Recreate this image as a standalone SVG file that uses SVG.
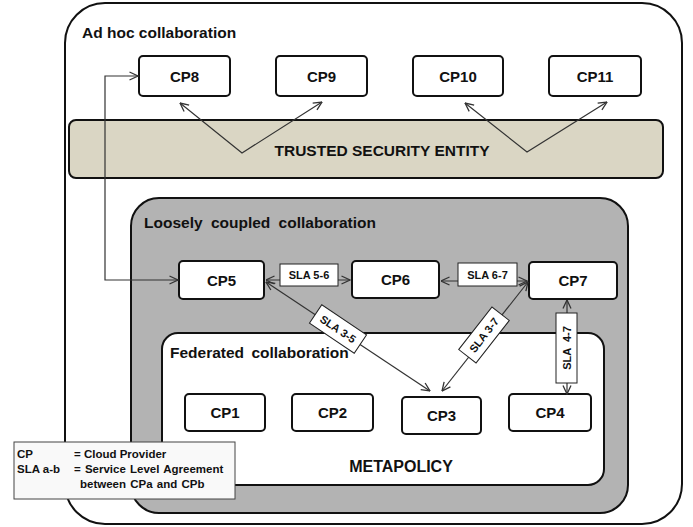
<svg xmlns="http://www.w3.org/2000/svg" width="693" height="527" viewBox="0 0 693 527">
<defs>
<marker id="ah" viewBox="0 0 10 10" refX="9.5" refY="5" markerWidth="10" markerHeight="10" markerUnits="userSpaceOnUse" orient="auto-start-reverse">
<path d="M1,1 L9.5,5 L1,9" fill="none" stroke="#333" stroke-width="1.3"/>
</marker>
<style>
text{font-family:"Liberation Sans",Arial,sans-serif;font-weight:bold;fill:#111}
.node{fill:#fff;stroke:#111;stroke-width:2}
.cp{font-size:15px;text-anchor:middle}
.title{font-size:15.5px}
.conn{fill:none;stroke:#333;stroke-width:1.2}
.lbl{fill:#fff;stroke:#222;stroke-width:1}
.sla{font-size:11px;text-anchor:middle}
.leg{font-size:11.5px}
</style>
</defs>
<rect width="693" height="527" fill="#fff"/>
<g id="adhoc">
<rect x="65" y="3" width="617" height="521" rx="40" ry="40" fill="#fff" stroke="#111" stroke-width="2"/>
<text class="title" x="82" y="38">Ad hoc collaboration</text>
</g>
<g id="trusted">
<rect x="69" y="120" width="594" height="58" rx="7" fill="#dad6c4" stroke="#111" stroke-width="2"/>
<text x="382" y="156" style="font-size:15.5px;text-anchor:middle">TRUSTED SECURITY ENTITY</text>
</g>
<g id="loosely">
<rect x="131" y="198" width="497" height="315" rx="28" fill="#b3b3b3" stroke="#111" stroke-width="2"/>
<text class="title" x="144" y="228" style="word-spacing:4px">Loosely coupled collaboration</text>
</g>
<g id="federated">
<rect x="162" y="333" width="442" height="152" rx="16" fill="#fff" stroke="#111" stroke-width="2"/>
<text class="title" x="170" y="358" style="word-spacing:3px">Federated collaboration</text>
<text x="401" y="472" style="font-size:16px;text-anchor:middle">METAPOLICY</text>
</g>
<g id="cp8"><rect class="node" x="139" y="56" width="91" height="40" rx="4"/><text class="cp" x="184.5" y="82">CP8</text></g>
<g id="cp9"><rect class="node" x="276" y="56" width="91" height="40" rx="4"/><text class="cp" x="321.5" y="82">CP9</text></g>
<g id="cp10"><rect class="node" x="413" y="56" width="90" height="40" rx="4"/><text class="cp" x="458" y="82">CP10</text></g>
<g id="cp11"><rect class="node" x="549" y="56" width="92" height="40" rx="4"/><text class="cp" x="595" y="82">CP11</text></g>
<g id="cp5"><rect class="node" x="179" y="261" width="85" height="38" rx="4"/><text class="cp" x="221.5" y="286">CP5</text></g>
<g id="cp6"><rect class="node" x="352" y="261" width="87" height="37" rx="4"/><text class="cp" x="395.5" y="285">CP6</text></g>
<g id="cp7"><rect class="node" x="529" y="262" width="88" height="37" rx="4"/><text class="cp" x="573" y="286">CP7</text></g>
<g id="cp1"><rect class="node" x="185" y="394" width="80" height="37" rx="4"/><text class="cp" x="225" y="418">CP1</text></g>
<g id="cp2"><rect class="node" x="292" y="394" width="81" height="37" rx="4"/><text class="cp" x="332.5" y="418">CP2</text></g>
<g id="cp3"><rect class="node" x="402" y="397" width="79" height="37" rx="4"/><text class="cp" x="441.5" y="421">CP3</text></g>
<g id="cp4"><rect class="node" x="509" y="394" width="82" height="37" rx="4"/><text class="cp" x="550" y="418">CP4</text></g>
<g id="connectors">
<polyline class="conn" points="180,103 242,153 322,102" marker-start="url(#ah)" marker-end="url(#ah)"/>
<polyline class="conn" points="465,103 527,152 607,102" marker-start="url(#ah)" marker-end="url(#ah)"/>
<path class="conn" d="M178,280 H105 V76 H138" marker-start="url(#ah)" marker-end="url(#ah)"/>
<line class="conn" x1="266" y1="280" x2="350" y2="280" marker-start="url(#ah)" marker-end="url(#ah)"/>
<line class="conn" x1="441" y1="281" x2="527" y2="281" marker-start="url(#ah)" marker-end="url(#ah)"/>
<line class="conn" x1="266" y1="282" x2="430" y2="391" marker-start="url(#ah)" marker-end="url(#ah)"/>
<line class="conn" x1="442" y1="391" x2="528" y2="282" marker-start="url(#ah)" marker-end="url(#ah)"/>
<line class="conn" x1="567" y1="300" x2="567" y2="394" marker-start="url(#ah)" marker-end="url(#ah)"/>
<g>
<rect class="lbl" x="280" y="264" width="58" height="22"/>
<text class="sla" x="309" y="279">SLA 5-6</text>
</g>
<g>
<rect class="lbl" x="458" y="263" width="59" height="23"/>
<text class="sla" x="487.5" y="279">SLA 6-7</text>
</g>
<g transform="translate(338,329) rotate(34)">
<rect class="lbl" x="-27" y="-11" width="54" height="22"/>
<text class="sla" x="0" y="4">SLA 3-5</text>
</g>
<g transform="translate(484,335) rotate(-52)">
<rect class="lbl" x="-27" y="-11" width="54" height="22"/>
<text class="sla" x="0" y="4">SLA 3-7</text>
</g>
<g transform="translate(566.5,348) rotate(-90)">
<rect class="lbl" x="-35" y="-10.5" width="70" height="21"/>
<text class="sla" x="0" y="4" style="word-spacing:3px">SLA 4-7</text>
</g>
</g>
<g id="legend">
<rect x="14" y="442" width="221" height="57" fill="#f9f9f9" stroke="#444" stroke-width="1"/>
<text class="leg" x="17" y="458">CP</text>
<text class="leg" x="74" y="458">= Cloud Provider</text>
<text class="leg" x="17" y="473">SLA a-b</text>
<text class="leg" x="74" y="473" style="word-spacing:1px">= Service Level Agreement</text>
<text class="leg" x="80" y="488" style="word-spacing:1px">between CPa and CPb</text>
</g>
</svg>
